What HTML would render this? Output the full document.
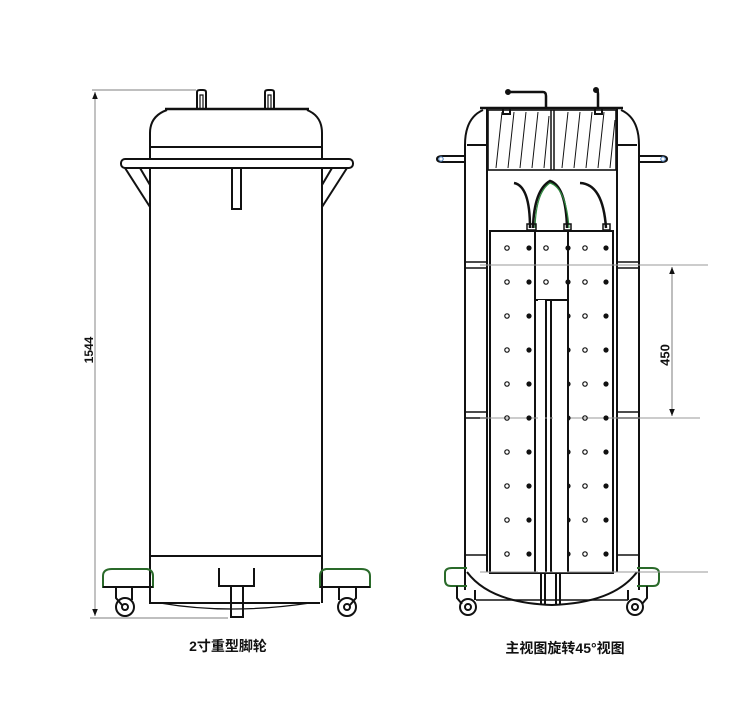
<!DOCTYPE html>
<html><head><meta charset="utf-8"><style>
html,body{margin:0;padding:0;background:#fff;width:750px;height:728px;overflow:hidden}
svg{display:block}
text{font-family:"Liberation Sans","Noto Sans CJK SC",sans-serif;font-weight:bold;fill:#111}
</style></head><body>
<svg width="750" height="728" viewBox="0 0 750 728" xmlns="http://www.w3.org/2000/svg">
<defs>
<marker id="ar" viewBox="0 0 10 10" refX="10" refY="5" markerWidth="7" markerHeight="10" orient="auto-start-reverse" markerUnits="userSpaceOnUse"><path d="M0,1 L10,5 L0,9 z" fill="#111"/></marker>
</defs>
<g fill="none" stroke="#111" stroke-width="2">
<!-- LEFT VIEW -->
<!-- dimension -->
<line x1="92" y1="90" x2="196" y2="90" stroke="#999" stroke-width="1.2"/>
<line x1="90" y1="618" x2="228" y2="618" stroke="#999" stroke-width="1.2"/>
<line x1="95" y1="92" x2="95" y2="616" stroke="#999" stroke-width="1.2" marker-start="url(#ar)" marker-end="url(#ar)"/>
<!-- handles -->
<path d="M197,109 V92 Q197,90 200,90 H203 Q206,90 206,92 V109" />
<path d="M200,109 V95 H203 V109" stroke-width="1.2"/>
<path d="M265,109 V92 Q265,90 268,90 H271 Q274,90 274,92 V109"/>
<path d="M268,109 V95 H271 V109" stroke-width="1.2"/>
<!-- lid + dome -->
<line x1="165" y1="109" x2="309" y2="109" stroke-width="2.5"/>
<path d="M150,159 V133 Q150,116 167,110 M322,159 V133 Q322,116 307,110"/>
<line x1="150" y1="147" x2="322" y2="147"/>
<!-- rail -->
<rect x="121" y="159" width="232" height="9" rx="4"/>
<!-- braces -->
<path d="M125,168 L150,207 M140,168 L150,185"/>
<path d="M347,168 L322,207 M332,168 L322,185"/>
<!-- T -->
<path d="M232,168 V209 H241 V168"/>
<!-- body -->
<path d="M150,168 V603 H320 M322,168 V603"/>
<line x1="150" y1="556" x2="322" y2="556"/>
<!-- bottom curve -->
<path d="M160,603 Q230,615 310,603" stroke-width="1.2"/>
<!-- center caster -->
<path d="M219,568 V586 H254 V568"/>
<rect x="231" y="586" width="12" height="31"/>
<line x1="226" y1="586" x2="248" y2="586"/>
<!-- bumpers -->
<path d="M103,587 V576 Q103,569 112,569 H147 Q153,570 153,576 V587 Z" stroke="#2a6a2a"/>
<path d="M103,587 H153" />
<path d="M370,587 V576 Q370,569 361,569 H326 Q320,570 320,576 V587 Z" stroke="#2a6a2a"/>
<path d="M320,587 H370"/>
<!-- casters left -->
<path d="M116,587 V598 L122,605 M132,587 V600"/>
<circle cx="125" cy="607" r="9"/>
<circle cx="125" cy="607" r="3"/>
<path d="M339,587 V600 M356,587 V598 L350,605"/>
<circle cx="347" cy="607" r="9"/>
<circle cx="347" cy="607" r="3"/>

<!-- RIGHT VIEW -->
<!-- pipes -->
<path d="M509,92 H543 Q546,92 546,96 V108" stroke-width="2.5"/>
<circle cx="508" cy="92" r="2" fill="#111"/>
<path d="M596,90 Q598,90 598,94 V108" stroke-width="2.5"/>
<circle cx="596" cy="90" r="2" fill="#111"/>
<line x1="480" y1="108" x2="623" y2="108" stroke-width="2.5"/>
<rect x="503" y="108" width="7" height="6"/>
<rect x="595" y="108" width="7" height="6"/>
<!-- frame -->
<path d="M465,590 V145 Q465,118 483,110 M639,590 V145 Q639,118 621,110"/>
<path d="M467,145 H487 M617,145 H637"/>
<line x1="487" y1="108" x2="487" y2="572"/>
<line x1="617" y1="108" x2="617" y2="572"/>
<!-- hatched box -->
<rect x="488" y="110" width="128" height="60" stroke-width="1.6"/>
<line x1="551" y1="110" x2="551" y2="170" stroke-width="1.5"/>
<line x1="554" y1="110" x2="554" y2="170" stroke-width="1.5"/>
<g stroke-width="1">
<path d="M496,168 L502,112 M508,168 L514,112 M520,168 L526,112 M532,168 L538,112 M544,168 L549,116 M562,168 L568,112 M574,168 L580,112 M586,168 L592,112 M598,168 L604,112 M610,168 L615,120"/>
</g>
<!-- side knobs -->
<path d="M465,156 H443 Q437,156 437,159 Q437,162 443,162 H465"/>
<circle cx="441" cy="159" r="2.2" stroke-width="1" stroke="#4a7fbf"/>
<path d="M639,156 H661 Q667,156 667,159 Q667,162 661,162 H639"/>
<circle cx="663" cy="159" r="2.2" stroke-width="1" stroke="#4a7fbf"/>
<!-- hoses -->
<path d="M514,183 Q530,186 530,228" stroke-width="2.5"/>
<path d="M533,228 Q534,190 550,181 Q566,186 567,228" stroke-width="2.5"/>
<path d="M535,228 Q536,192 550,183 Q566,188 569,228" stroke="#2e8b3e" stroke-width="1.2"/>
<path d="M580,183 Q603,184 606,228" stroke-width="2.5"/>
<rect x="527" y="224" width="9" height="6" stroke-width="1.5"/>
<rect x="564" y="224" width="7" height="6" stroke-width="1.5"/>
<rect x="603" y="224" width="7" height="6" stroke-width="1.5"/>
<!-- plate -->
<rect x="490" y="231" width="123" height="342"/>
<path d="M535,231 V573 M568,231 V573"/>
<path d="M535,300 H568"/>
<path d="M546,300 V573 M551,300 V573"/>
<!-- cross bars -->
<path d="M465,262 H487 M465,268 H487 M617,262 H639 M617,268 H639" stroke-width="1.5"/>
<path d="M465,412 H487 M465,418 H487 M617,412 H639 M617,418 H639" stroke-width="1.5"/>
<path d="M465,555 H487 M617,555 H639" stroke-width="1.5"/>
<!-- bowl -->
<path d="M467,572 Q490,603 552,605 Q614,603 637,572"/>
<path d="M541,573 V605 M545,573 V605 M556,573 V605 M560,573 V605"/>
<!-- bumpers -->
<path d="M467,586 H451 Q445,586 445,580 V573 Q445,568 452,568 H467" stroke="#2a6a2a"/>
<path d="M637,586 H653 Q659,586 659,580 V573 Q659,568 652,568 H637" stroke="#2a6a2a"/>
<path d="M457,586 V598 L462,604 M475,590 V600 M628,590 V600 M647,586 V598 L642,604"/>
<circle cx="468" cy="607" r="8"/>
<circle cx="468" cy="607" r="3"/>
<circle cx="635" cy="607" r="8"/>
<circle cx="635" cy="607" r="3"/>
<path d="M476,600 H628" stroke-width="1.5"/>
<!-- dims -->
<line x1="480" y1="265" x2="708" y2="265" stroke="#999" stroke-width="1.1"/>
<line x1="480" y1="418" x2="700" y2="418" stroke="#999" stroke-width="1.1"/>
<line x1="480" y1="572" x2="708" y2="572" stroke="#999" stroke-width="1.1"/>
<line x1="672" y1="267" x2="672" y2="416" stroke="#888" stroke-width="1.1" marker-start="url(#ar)" marker-end="url(#ar)"/>
</g>
<!-- dots -->
<g id="dots">
</g>
<g stroke="#111" stroke-width="1.2">
<script type="text/plain"></script>
</g>
<g>
<!-- rows -->
<g id="rowset"></g>
</g>
<g stroke="#111" stroke-width="1.2">
<g id="r" >
<circle cx="507" cy="248" r="2.2" fill="none"/><circle cx="529" cy="248" r="2" fill="#111"/><circle cx="546" cy="248" r="2.2" fill="none"/><circle cx="568" cy="248" r="2" fill="#111"/><circle cx="585" cy="248" r="2.2" fill="none"/><circle cx="606" cy="248" r="2" fill="#111"/>
</g>
<use href="#r" y="34"/><use href="#r" y="68"/><use href="#r" y="102"/><use href="#r" y="136"/><use href="#r" y="170"/><use href="#r" y="204"/><use href="#r" y="238"/><use href="#r" y="272"/><use href="#r" y="306"/>
</g>
<rect x="538" y="300" width="7" height="272" fill="#fff"/>
<rect x="547" y="301" width="3" height="271" fill="#fff"/>
<rect x="553" y="301" width="14" height="271" fill="#fff"/>
<text x="90" y="350" font-size="12" text-anchor="middle" transform="rotate(-90 90 350)" dominant-baseline="middle">1544</text>
<text x="666" y="355" font-size="13" text-anchor="middle" transform="rotate(-90 666 355)" dominant-baseline="middle">450</text>
<text x="228" y="651" font-size="14" text-anchor="middle">2寸重型脚轮</text>
<text x="565" y="653" font-size="14" text-anchor="middle">主视图旋转45°视图</text>
</svg>
</body></html>
